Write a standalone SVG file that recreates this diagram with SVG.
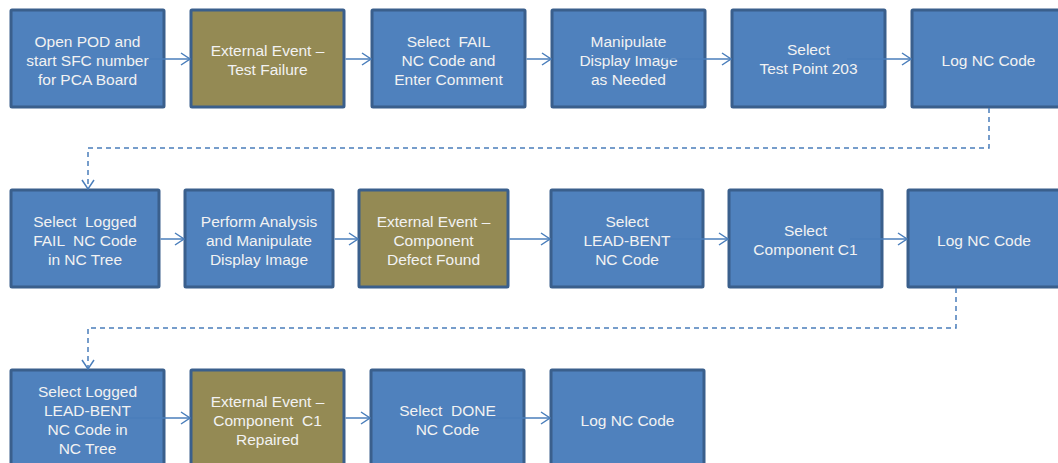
<svg xmlns="http://www.w3.org/2000/svg" width="1058" height="463" viewBox="0 0 1058 463">
<style>
.b{fill:#4F81BD;stroke:#3A5F8C;stroke-width:3}
.o{fill:#948A54;stroke:#3A5F8C;stroke-width:3}
text{font-family:"Liberation Sans",Arial,sans-serif;font-size:15.5px;fill:#F2F2F2;text-anchor:middle;white-space:pre}
.c{fill:none;stroke:#4A7EBB;stroke-width:1.5}
.d{fill:none;stroke:#4A7EBB;stroke-width:1.5;stroke-dasharray:5 4}
</style>
<defs>
<marker id="ah" markerUnits="userSpaceOnUse" markerWidth="12" markerHeight="14" refX="10" refY="7" orient="auto" viewBox="0 0 12 14">
<path d="M1 1 L10 7 L1 13" fill="none" stroke="#4A7EBB" stroke-width="1.5"/>
</marker>
</defs>
<rect width="1058" height="463" fill="#FFFFFF"/>
<g id="n1"><rect class="b" x="11" y="10" width="153" height="97" rx="1"/><text><tspan x="87.5" y="46.5">Open POD and</tspan><tspan x="87.5" y="65.5">start SFC number</tspan><tspan x="87.5" y="84.5">for PCA Board</tspan></text></g>
<g id="n2"><rect class="o" x="191" y="10" width="153" height="97" rx="1"/><text><tspan x="267.5" y="55.5">External Event –</tspan><tspan x="267.5" y="74.5">Test Failure</tspan></text></g>
<g id="n3"><rect class="b" x="372" y="10" width="153" height="97" rx="1"/><text><tspan x="448.5" y="46.5">Select  FAIL</tspan><tspan x="448.5" y="65.5">NC Code and</tspan><tspan x="448.5" y="84.5">Enter Comment</tspan></text></g>
<g id="n4"><rect class="b" x="552" y="10" width="153" height="97" rx="1"/><text><tspan x="628.5" y="46.5">Manipulate</tspan><tspan x="628.5" y="65.5">Display Image</tspan><tspan x="628.5" y="84.5">as Needed</tspan></text></g>
<g id="n5"><rect class="b" x="732" y="10" width="153" height="97" rx="1"/><text><tspan x="808.5" y="54.5">Select</tspan><tspan x="808.5" y="73.5">Test Point 203</tspan></text></g>
<g id="n6"><rect class="b" x="912" y="10" width="153" height="97" rx="1"/><text x="988.5" y="65.5">Log NC Code</text></g>

<g id="n7"><rect class="b" x="11" y="190" width="148" height="97" rx="1"/><text><tspan x="85" y="226.5">Select  Logged</tspan><tspan x="85" y="245.5">FAIL  NC Code</tspan><tspan x="85" y="264.5">in NC Tree</tspan></text></g>
<g id="n8"><rect class="b" x="185" y="190" width="148" height="97" rx="1"/><text><tspan x="259" y="226.5">Perform Analysis</tspan><tspan x="259" y="245.5">and Manipulate</tspan><tspan x="259" y="264.5">Display Image</tspan></text></g>
<g id="n9"><rect class="o" x="359" y="190" width="149" height="97" rx="1"/><text><tspan x="433.5" y="226.5">External Event –</tspan><tspan x="433.5" y="245.5">Component</tspan><tspan x="433.5" y="264.5">Defect Found</tspan></text></g>
<g id="n10"><rect class="b" x="551" y="190" width="152" height="97" rx="1"/><text><tspan x="627" y="226.5">Select</tspan><tspan x="627" y="245.5">LEAD-BENT</tspan><tspan x="627" y="264.5">NC Code</tspan></text></g>
<g id="n11"><rect class="b" x="729" y="190" width="153" height="97" rx="1"/><text><tspan x="805.5" y="235.5">Select</tspan><tspan x="805.5" y="254.5">Component C1</tspan></text></g>
<g id="n12"><rect class="b" x="908" y="190" width="153" height="97" rx="1"/><text x="984" y="245.5">Log NC Code</text></g>

<g id="n13"><rect class="b" x="11" y="370" width="153" height="97" rx="1"/><text><tspan x="87.5" y="396.5">Select Logged</tspan><tspan x="87.5" y="415.5">LEAD-BENT</tspan><tspan x="87.5" y="434.5">NC Code in</tspan><tspan x="87.5" y="453.5">NC Tree</tspan></text></g>
<g id="n14"><rect class="o" x="191" y="370" width="153" height="97" rx="1"/><text><tspan x="267.5" y="406.5">External Event –</tspan><tspan x="267.5" y="425.5">Component  C1</tspan><tspan x="267.5" y="444.5">Repaired</tspan></text></g>
<g id="n15"><rect class="b" x="371" y="370" width="153" height="97" rx="1"/><text><tspan x="447.5" y="415.5">Select  DONE</tspan><tspan x="447.5" y="434.5">NC Code</tspan></text></g>
<g id="n16"><rect class="b" x="551" y="370" width="153" height="97" rx="1"/><text x="627.5" y="425.5">Log NC Code</text></g>

<g id="connectors">
<path class="c" d="M150 59 H190" marker-end="url(#ah)"/>
<path class="c" d="M345.5 59 H371" marker-end="url(#ah)"/>
<path class="c" d="M526.5 59 H551" marker-end="url(#ah)"/>
<path class="c" d="M663 59 H731" marker-end="url(#ah)"/>
<path class="c" d="M847 59 H911" marker-end="url(#ah)"/>
<path class="d" d="M989 108 V148 H88 V189" marker-end="url(#ah)"/>
<path class="c" d="M160.5 239 H184" marker-end="url(#ah)"/>
<path class="c" d="M334.5 239 H358" marker-end="url(#ah)"/>
<path class="c" d="M509.5 239 H550" marker-end="url(#ah)"/>
<path class="c" d="M670 239 H728" marker-end="url(#ah)"/>
<path class="c" d="M850 239 H907" marker-end="url(#ah)"/>
<path class="d" d="M956 288 V328 H88 V369" marker-end="url(#ah)"/>
<path class="c" d="M127 418 H190" marker-end="url(#ah)"/>
<path class="c" d="M345.5 418 H370" marker-end="url(#ah)"/>
<path class="c" d="M487 418 H550" marker-end="url(#ah)"/>
</g>
</svg>
